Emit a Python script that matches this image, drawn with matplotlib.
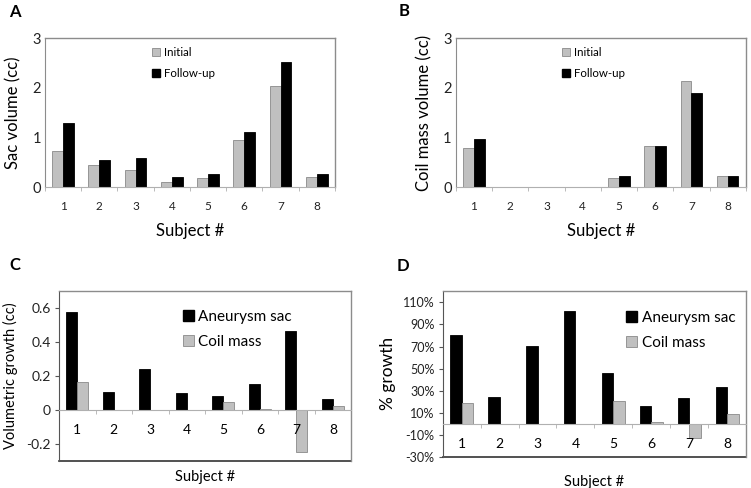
import matplotlib
matplotlib.use("Agg")
import matplotlib.pyplot as plt
import numpy as np
from matplotlib.patches import Patch
from matplotlib.lines import Line2D

plt.rcParams['font.family'] = ['Lato', 'DejaVu Sans']

subjects = ['1', '2', '3', '4', '5', '6', '7', '8']

sac_initial = [0.72, 0.44, 0.35, 0.10, 0.18, 0.95, 2.04, 0.20]
sac_followup = [1.30, 0.54, 0.58, 0.20, 0.26, 1.10, 2.52, 0.27]

coil_initial = [0.79, 0.0, 0.0, 0.0, 0.18, 0.83, 2.14, 0.22]
coil_followup = [0.96, 0.0, 0.0, 0.0, 0.22, 0.83, 1.90, 0.23]

growth_sac = [0.578, 0.104, 0.238, 0.100, 0.080, 0.149, 0.465, 0.066]
growth_coil = [0.166, 0.0, 0.0, 0.0, 0.043, 0.006, -0.246, 0.020]

pct_sac = [80.4, 24.1, 70.2, 102.5, 46.3, 16.4, 23.3, 33.7]
pct_coil = [18.5, 0.0, 0.0, 0.0, 20.3, 1.7, -13.0, 8.6]

GRAY = '#c0c0c0'
GRAYEDGE = '#8a8a8a'
BLACK = '#000000'
SPINE = '#8c8c8c'

fig = plt.figure(figsize=(7.51, 4.88), dpi=100)

x = np.arange(len(subjects))
w = 0.3


def style_axis(ax, xtick_size, ytick_size):
    ax.set_xlim(-0.5, len(subjects) - 0.5)
    ax.set_xticks(x)
    ax.set_xticklabels(subjects, fontsize=xtick_size, color='#222222')
    ax.set_xticks(np.arange(len(subjects) + 1) - 0.5, minor=True)
    ax.tick_params(axis='x', which='major', length=0, pad=10)
    ax.tick_params(axis='x', which='minor', length=3, color='#b0b0b0', direction='out')
    ax.tick_params(axis='y', which='major', length=3, color='#555555', labelsize=ytick_size,
                   labelcolor='#222222', pad=3)
    for s in ['top', 'right']:
        ax.spines[s].set_color(SPINE)
        ax.spines[s].set_linewidth(1.0)
    ax.spines['left'].set_color('#555555')
    ax.spines['bottom'].set_color('#b0b0b0')


def set_labels(ax, xlabel, xfs, xy, ylabel, yfs, yx):
    ax.set_xlabel(xlabel, fontsize=xfs, va='center')
    ax.xaxis.set_label_coords(0.5, xy)
    ax.set_ylabel(ylabel, fontsize=yfs, va='center')
    ax.yaxis.set_label_coords(yx, 0.5)


def add_legend(ax, handles, labels, anchor, fs, spacing):
    ax.legend(handles, labels, loc='upper left', bbox_to_anchor=anchor, frameon=False,
              fontsize=fs, handlelength=0.7, handleheight=0.7, handletextpad=0.3,
              labelspacing=spacing, borderaxespad=0, borderpad=0)


# Panel A
axA = fig.add_axes([0.0599, 0.6168, 0.386, 0.305])
axA.bar(x - w / 2, sac_initial, w, color=GRAY, edgecolor=GRAYEDGE, linewidth=0.6)
axA.bar(x + w / 2, sac_followup, w, color=BLACK, edgecolor=BLACK, linewidth=0.6)
axA.set_ylim(0, 3)
axA.set_yticks([0, 1, 2, 3])
style_axis(axA, 8.5, 10.5)
axA.spines['left'].set_color(SPINE)
axA.tick_params(axis='y', length=0)
set_labels(axA, 'Subject #', 12, -0.295, 'Sac volume (cc)', 12, -0.109)
add_legend(axA, [Patch(facecolor=GRAY, edgecolor=GRAYEDGE, linewidth=0.6),
                 Patch(facecolor=BLACK, edgecolor=BLACK)],
           ['Initial', 'Follow-up'], (0.37, 0.94), 8.3, 0.9)

# Panel B
axB = fig.add_axes([0.607, 0.6168, 0.386, 0.305])
axB.bar(x - w / 2, coil_initial, w, color=GRAY, edgecolor=GRAYEDGE, linewidth=0.6)
axB.bar(x + w / 2, coil_followup, w, color=BLACK, edgecolor=BLACK, linewidth=0.6)
axB.set_ylim(0, 3)
axB.set_yticks([0, 1, 2, 3])
style_axis(axB, 8.5, 10.5)
axB.spines['left'].set_color(SPINE)
axB.tick_params(axis='y', length=0)
set_labels(axB, 'Subject #', 12, -0.295, 'Coil mass volume (cc)', 12, -0.107)
add_legend(axB, [Patch(facecolor=GRAY, edgecolor=GRAYEDGE, linewidth=0.6),
                 Patch(facecolor=BLACK, edgecolor=BLACK)],
           ['Initial', 'Follow-up'], (0.367, 0.94), 8.3, 0.9)

# Panel C
axC = fig.add_axes([0.0786, 0.0559, 0.389, 0.348])
axC.bar(x - w / 2, growth_sac, w, color=BLACK, edgecolor=BLACK, linewidth=0.6)
axC.bar(x + w / 2, growth_coil, w, color=GRAY, edgecolor=GRAYEDGE, linewidth=0.6)
axC.set_ylim(-0.3, 0.7)
axC.set_yticks([-0.2, 0, 0.2, 0.4, 0.6])
axC.set_yticklabels(['-0.2', '0', '0.2', '0.4', '0.6'])
style_axis(axC, 8, 10)
axC.spines['bottom'].set_position(('data', 0))
axC.add_line(Line2D([0, 1], [0, 0], transform=axC.transAxes, color='#333333', linewidth=1.2,
                    clip_on=False))
set_labels(axC, 'Subject #', 10.5, -0.095, 'Volumetric growth (cc)', 10.5, -0.166)
add_legend(axC, [Patch(facecolor=BLACK, edgecolor=BLACK),
                 Patch(facecolor=GRAY, edgecolor=GRAYEDGE, linewidth=0.6)],
           ['Aneurysm sac', 'Coil mass'], (0.425, 0.89), 11, 0.75)

# Panel D
axD = fig.add_axes([0.5895, 0.0635, 0.404, 0.3408])
axD.bar(x - w / 2, pct_sac, w, color=BLACK, edgecolor=BLACK, linewidth=0.6)
axD.bar(x + w / 2, pct_coil, w, color=GRAY, edgecolor=GRAYEDGE, linewidth=0.6)
axD.set_ylim(-30, 120.5)
yt = [-30, -10, 10, 30, 50, 70, 90, 110]
axD.set_yticks(yt)
axD.set_yticklabels(['%d%%' % v for v in yt])
style_axis(axD, 9, 9)
axD.spines['bottom'].set_position(('data', 0))
axD.add_line(Line2D([0, 1], [0, 0], transform=axD.transAxes, color='#333333', linewidth=1.2,
                    clip_on=False))
set_labels(axD, 'Subject #', 10.5, -0.15, '% growth', 12.5, -0.179)
add_legend(axD, [Patch(facecolor=BLACK, edgecolor=BLACK),
                 Patch(facecolor=GRAY, edgecolor=GRAYEDGE, linewidth=0.6)],
           ['Aneurysm sac', 'Coil mass'], (0.605, 0.88), 11, 0.75)

for lbl, (fx, fy) in zip(['A', 'B', 'C', 'D'],
                         [(0.02, 0.975), (0.538, 0.977), (0.02, 0.456), (0.537, 0.455)]):
    fig.text(fx, fy, lbl, fontsize=12, fontweight='bold', ha='center', va='center')

fig.savefig('out.png', dpi=100)
